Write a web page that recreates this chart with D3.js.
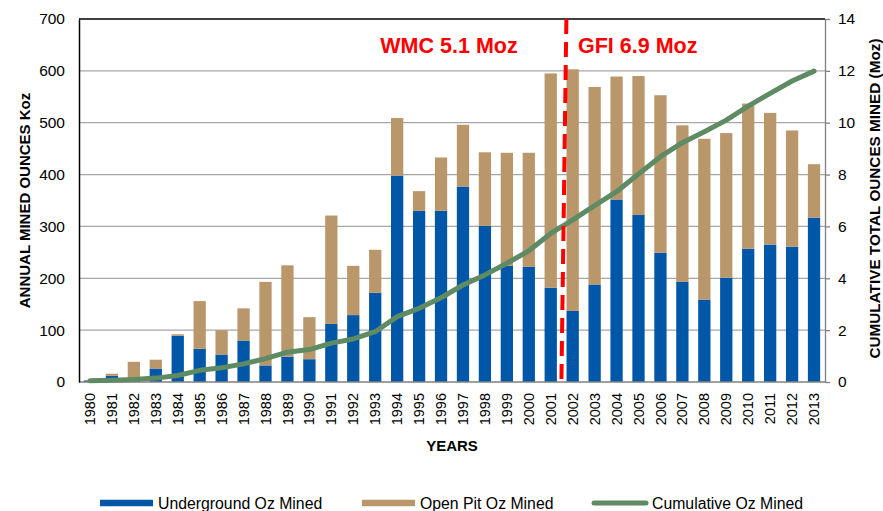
<!DOCTYPE html>
<html>
<head>
<meta charset="utf-8">
<script src="https://cdn.jsdelivr.net/npm/d3@7"></script>
<style>
  body { margin: 0; background: #fff; }
  svg { font-family: "Liberation Sans", Arial, sans-serif; }
</style>
</head>
<body>
<svg id="chart"></svg>
<script>
// Chart data
var years = ["1980","1981","1982","1983","1984","1985","1986","1987","1988","1989",
             "1990","1991","1992","1993","1994","1995","1996","1997","1998","1999",
             "2000","2001","2002","2003","2004","2005","2006","2007","2008","2009",
             "2010","2011","2012","2013"];
var underground = [3, 12, 2, 26, 89, 64, 53, 80, 32, 49,
                   44, 112, 129, 172, 398, 330, 330, 377, 301, 224,
                   222, 182, 137, 188, 352, 322, 249, 193, 159, 201,
                   257, 265, 261, 317];
var openPit = [1, 4, 37, 17, 3, 92, 47, 62, 161, 176,
               81, 209, 95, 83, 111, 38, 103, 119, 142, 218,
               220, 413, 466, 381, 237, 268, 304, 302, 310, 279,
               280, 254, 224, 103];
var cumulative = [0.05, 0.07, 0.1, 0.15, 0.25, 0.45, 0.55, 0.7, 0.9, 1.15,
                  1.25, 1.5, 1.66, 1.94, 2.52, 2.84, 3.25, 3.74, 4.13, 4.58,
                  5.06, 5.73, 6.25, 6.8, 7.34, 8.02, 8.69, 9.23, 9.65, 10.1,
                  10.64, 11.13, 11.61, 11.99];
var leftTicks = [0, 100, 200, 300, 400, 500, 600, 700];
var rightTicks = [0, 2, 4, 6, 8, 10, 12, 14];
var seriesNames = ["Underground Oz Mined", "Open Pit Oz Mined", "Cumulative Oz Mined"];

const dims = {
    width: 883,
    height: 511,
    marginLeft: 79,
    marginRight: 58,
    marginTop: 19,
    marginBottom: 129
};

const colors = {
    underground: "#0057a8",
    openPit: "#b9976b",
    cumulative: "#5e8a64",
    grid: "#a6a6a6",
    red: "#ff0000"
};

function chart() {
    const svg = d3.select("#chart")
        .attr("width", dims.width)
        .attr("height", dims.height);

    const left = dims.marginLeft;
    const right = dims.width - dims.marginRight;
    const top = dims.marginTop;
    const bottom = dims.height - dims.marginBottom;

    let x = d3.scaleBand()
        .domain(years)
        .range([left, right])
        .paddingInner(0.44)
        .paddingOuter(0.22);

    let y = d3.scaleLinear().domain([0, 700]).range([bottom, top]);
    let y2 = d3.scaleLinear().domain([0, 14]).range([bottom, top]);

    // gridlines
    svg.append("g")
        .selectAll("line")
        .data(leftTicks.filter(d => d > 0 && d < 700))
        .join("line")
        .attr("x1", left).attr("x2", right)
        .attr("y1", d => y(d)).attr("y2", d => y(d))
        .attr("stroke", colors.grid)
        .attr("stroke-width", 1.3);

    // stacked bars
    const rows = years.map((yr, i) => ({ year: yr, underground: underground[i], openPit: openPit[i] }));
    const stack = d3.stack().keys(["underground", "openPit"])(rows);

    svg.append("g")
        .selectAll("g")
        .data(stack)
        .join("g")
        .attr("fill", d => colors[d.key])
        .selectAll("rect")
        .data(d => d)
        .join("rect")
        .attr("x", d => x(d.data.year))
        .attr("width", x.bandwidth())
        .attr("y", d => y(d[1]))
        .attr("height", d => y(d[0]) - y(d[1]));

    // frame: top and left black, bottom and right grey
    svg.append("line")
        .attr("x1", left).attr("x2", right)
        .attr("y1", top).attr("y2", top)
        .attr("stroke", "#000").attr("stroke-width", 1.3);

    svg.append("line")
        .attr("x1", left).attr("x2", right)
        .attr("y1", bottom).attr("y2", bottom)
        .attr("stroke", "#808080").attr("stroke-width", 1.3);

    // left axis
    const yAxis = g => g
        .attr("transform", `translate(${left},0)`)
        .call(d3.axisLeft(y).tickValues(leftTicks).tickSize(0).tickPadding(14))
        .call(g => g.select(".domain").attr("stroke", "#000").attr("stroke-width", 1.5))
        .call(g => g.selectAll("text").attr("font-size", 15.5).attr("fill", "#000")
            .attr("font-family", "Liberation Sans, Arial, sans-serif"));
    svg.append("g").call(yAxis);

    // right axis
    const y2Axis = g => g
        .attr("transform", `translate(${right},0)`)
        .call(d3.axisRight(y2).tickValues(rightTicks).tickSize(5).tickSizeOuter(0).tickPadding(8))
        .call(g => g.select(".domain").attr("stroke", "#808080").attr("stroke-width", 1.3))
        .call(g => g.selectAll(".tick line").attr("stroke", "#808080").attr("stroke-width", 1.3))
        .call(g => g.selectAll("text").attr("font-size", 15.5).attr("fill", "#000")
            .attr("font-family", "Liberation Sans, Arial, sans-serif"));
    svg.append("g").call(y2Axis);

    // x axis labels (rotated)
    const xAxis = g => g
        .attr("transform", `translate(0,${bottom})`)
        .call(d3.axisBottom(x).tickSize(0).tickPadding(0))
        .call(g => g.select(".domain").remove())
        .call(g => g.selectAll("text")
            .attr("font-size", 14.5)
            .attr("fill", "#000")
            .attr("font-family", "Liberation Sans, Arial, sans-serif")
            .attr("text-anchor", "end")
            .attr("dy", "0.35em")
            .attr("transform", "translate(0,11) rotate(-90)")
            .attr("x", 0).attr("y", 0));
    svg.append("g").call(xAxis);

    // cumulative line
    let line = d3.line()
        .x((d, i) => x(years[i]) + x.bandwidth() / 2)
        .y(d => y2(d));

    svg.append("path")
        .datum(cumulative)
        .attr("fill", "none")
        .attr("stroke", colors.cumulative)
        .attr("stroke-width", 5)
        .attr("stroke-linejoin", "round")
        .attr("stroke-linecap", "round")
        .attr("d", line);

    // split marker between 2001 and 2002
    const splitX = x("2002") - x.step() * 0.28;
    svg.append("line")
        .attr("x1", splitX + 6).attr("y1", top)
        .attr("x2", splitX + 1).attr("y2", bottom)
        .attr("stroke", colors.red)
        .attr("stroke-width", 4)
        .attr("stroke-dasharray", "15,8");

    svg.append("text")
        .attr("x", 449).attr("y", 53)
        .attr("text-anchor", "middle")
        .attr("font-size", 21.5).attr("font-weight", "bold")
        .attr("fill", colors.red)
        .text("WMC 5.1 Moz");

    svg.append("text")
        .attr("x", 578).attr("y", 53)
        .attr("font-size", 21.5).attr("font-weight", "bold")
        .attr("fill", colors.red)
        .text("GFI 6.9 Moz");

    // axis titles
    svg.append("text")
        .attr("transform", `translate(30,${(top + bottom) / 2}) rotate(-90)`)
        .attr("text-anchor", "middle")
        .attr("font-size", 15).attr("font-weight", "bold")
        .text("ANNUAL MINED OUNCES Koz");

    svg.append("text")
        .attr("transform", `translate(880,${(top + bottom) / 2 - 2}) rotate(-90)`)
        .attr("text-anchor", "middle")
        .attr("font-size", 15.3).attr("font-weight", "bold")
        .text("CUMULATIVE TOTAL OUNCES MINED (Moz)");

    svg.append("text")
        .attr("x", 452).attr("y", 451)
        .attr("text-anchor", "middle")
        .attr("font-size", 15).attr("font-weight", "bold")
        .text("YEARS");

    // legend
    const legendX = [100, 362, 592];
    const legendColors = [colors.underground, colors.openPit, colors.cumulative];
    const legend = svg.append("g")
        .selectAll("g")
        .data(seriesNames)
        .join("g")
        .attr("transform", (d, i) => `translate(${legendX[i]},503)`);

    legend.append("line")
        .attr("x1", (d, i) => i === 2 ? 2 : 0)
        .attr("x2", (d, i) => i === 2 ? 54 : 53)
        .attr("stroke", (d, i) => legendColors[i])
        .attr("stroke-width", (d, i) => i === 2 ? 5 : 6.5)
        .attr("stroke-linecap", (d, i) => i === 2 ? "round" : "butt");

    legend.append("text")
        .attr("x", (d, i) => i === 2 ? 60 : 58)
        .attr("y", 5.5)
        .attr("font-size", 15.8)
        .text(d => d);
}

chart();
</script>
</body>
</html>
